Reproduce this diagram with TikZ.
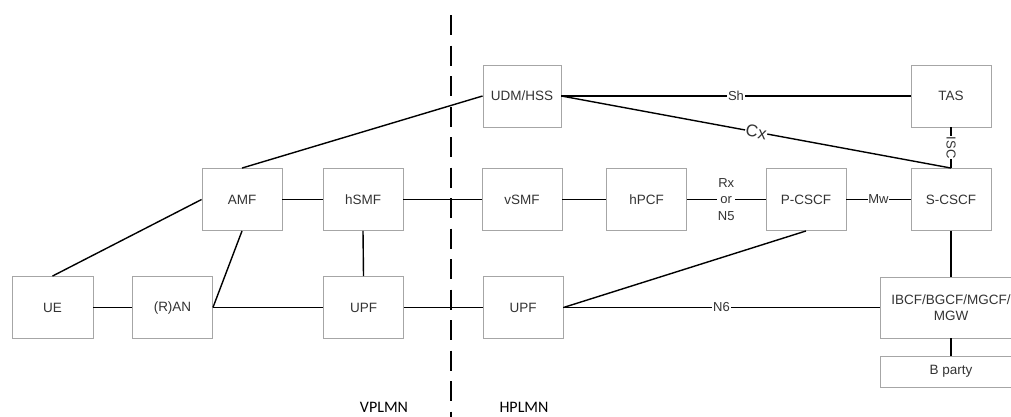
\documentclass[tikz,border=0pt]{standalone}
\usepackage{fontspec}
\setmainfont{Liberation Sans}
\newfontfamily\calib{Carlito}
\definecolor{boxgray}{HTML}{A6A6A6}
\definecolor{textgray}{HTML}{333333}
\begin{document}
\begin{tikzpicture}[x=1pt,y=-1pt,
  box/.style={draw=boxgray, line width=0.9pt, minimum width=80pt, minimum height=62pt, inner sep=0pt, text=textgray, font=\fontsize{13.5}{16}\selectfont, align=center},
  conn/.style={line width=1.4pt, black},
  lbl/.style={fill=white, inner sep=0.8pt, text=textgray, font=\fontsize{13}{16.5}\selectfont, align=center},
  plmn/.style={font=\calib\fontsize{16}{18}\selectfont, text=black, inner sep=0pt}]
\useasboundingbox (0,0) rectangle (1011,416);
\clip (0,0) rectangle (1011,416);
% nodes
\node[box, minimum width=81pt] (ue) at (52.5,307.5) {UE};
\node[box] (ran) at (172.5,307.5) {(R)AN};
\node[box] (upfv) at (363.5,307.5) {UPF};
\node[box] (upfh) at (523,307.5) {UPF};
\node[box] (amf) at (242,199.5) {AMF};
\node[box] (hsmf) at (363,199.5) {hSMF};
\node[box] (vsmf) at (522,199.5) {vSMF};
\node[box] (hpcf) at (646.5,199.5) {hPCF};
\node[box] (pcscf) at (806,199.5) {P-CSCF};
\node[box] (scscf) at (951,199.5) {S-CSCF};
\node[box, minimum width=78pt] (udm) at (522,96) {UDM/HSS};
\node[box] (tas) at (951,96) {TAS};
\node[box, minimum width=142pt, minimum height=61pt] (ibcf) at (951,307.5) {IBCF/BGCF/MGCF/\\MGW};
\node[box, minimum width=142pt, minimum height=31pt] (bparty) at (951,371.5) {B party};
% dashed boundary
\coordinate (dtop) at (451,15);
\coordinate (dbot) at (451,420);
\draw[line width=2.6pt, dash pattern=on 20pt off 10.5pt] (dtop) -- (dbot);
% connectors
\draw[conn] (ue.north) -- (amf.west);
\draw[conn] (amf.north) -- (udm.west);
\draw[conn] (amf.south) -- (ran.east);
\draw[conn] (ue.east) -- (ran.west);
\draw[conn] (ran.east) -- (upfv.west);
\draw[conn] (amf.east) -- (hsmf.west);
\draw[conn] (hsmf.south) -- (upfv.north);
\draw[conn] (hsmf.east) -- (vsmf.west);
\draw[conn] (upfv.east) -- (upfh.west);
\draw[conn] (vsmf.east) -- (hpcf.west);
\draw[conn] (hpcf.east) -- node[lbl] {Rx\\or\\N5} (pcscf.west);
\draw[conn] (pcscf.east) -- node[lbl] {Mw} (scscf.west);
\draw[conn] (udm.east) -- node[lbl] {Sh} (tas.west);
\draw[conn] (udm.east) -- node[lbl, sloped, font=\fontsize{17}{18}\selectfont] {Cx} (scscf.north);
\draw[conn] (tas.south) -- node[lbl, rotate=-90] {ISC} (scscf.north);
\draw[conn] (pcscf.south) -- (upfh.east);
\draw[conn] (upfh.east) -- node[lbl] {N6} (ibcf.west);
\draw[conn] (scscf.south) -- (ibcf.north);
\draw[conn] (ibcf.south) -- (bparty.north);
% region labels
\node[plmn] (vplmn) at (384,407) {VPLMN};
\node[plmn] (hplmn) at (524,407) {HPLMN};
\end{tikzpicture}
\end{document}
